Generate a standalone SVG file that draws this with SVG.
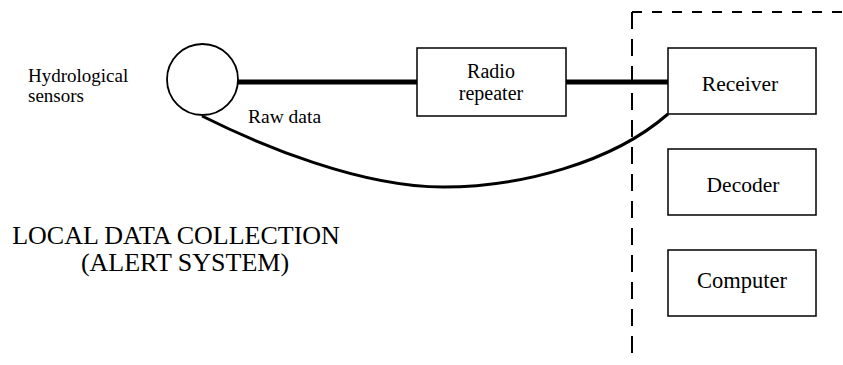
<svg xmlns="http://www.w3.org/2000/svg" width="843" height="365" viewBox="0 0 843 365">
<style>
.t{font-family:'Liberation Serif','DejaVu Serif',serif;fill:#000}
.box{fill:#fff;stroke:#000;stroke-width:1.5}
.thick{stroke:#000;stroke-width:5;fill:none}
.dash{stroke:#000;stroke-width:2;fill:none}
</style>
<rect width="843" height="365" fill="#fff"/>
<g id="boundary">
<line class="dash" x1="632" y1="12" x2="632" y2="354" stroke-dasharray="17 10"/>
<line class="dash" x1="632" y1="12" x2="843" y2="12" stroke-dasharray="10 10"/>
</g>
<g id="connectors">
<line class="thick" x1="238" y1="82" x2="417" y2="82"/>
<line class="thick" x1="566" y1="82" x2="668" y2="82"/>
<path d="M202,116 C260,145 360,187 443,187 C520,187 612,163 668,114" fill="none" stroke="#000" stroke-width="3"/>
</g>
<g id="sensors">
<circle cx="202.5" cy="79.5" r="35.5" fill="#fff" stroke="#000" stroke-width="1.8"/>
<text class="t" x="28" y="82" font-size="19">Hydrological</text>
<text class="t" x="28" y="102" font-size="19">sensors</text>
</g>
<g id="raw-data-label">
<text class="t" x="248" y="123" font-size="19.5">Raw data</text>
</g>
<g id="radio-repeater">
<rect class="box" x="417" y="48" width="149" height="68"/>
<text class="t" x="491" y="78" font-size="20" text-anchor="middle">Radio</text>
<text class="t" x="491" y="100" font-size="20" text-anchor="middle">repeater</text>
</g>
<g id="receiver">
<rect class="box" x="668" y="48" width="148" height="66"/>
<text class="t" x="740" y="91" font-size="21.5" text-anchor="middle">Receiver</text>
</g>
<g id="decoder">
<rect class="box" x="668" y="149" width="148" height="66"/>
<text class="t" x="743" y="192" font-size="21.5" text-anchor="middle">Decoder</text>
</g>
<g id="computer">
<rect class="box" x="668" y="250" width="148" height="66"/>
<text class="t" x="742" y="288" font-size="22.5" text-anchor="middle">Computer</text>
</g>
<g id="title">
<text class="t" x="176" y="244" font-size="26" text-anchor="middle">LOCAL DATA COLLECTION</text>
<text class="t" x="185" y="271" font-size="26" text-anchor="middle">(ALERT SYSTEM)</text>
</g>
</svg>
